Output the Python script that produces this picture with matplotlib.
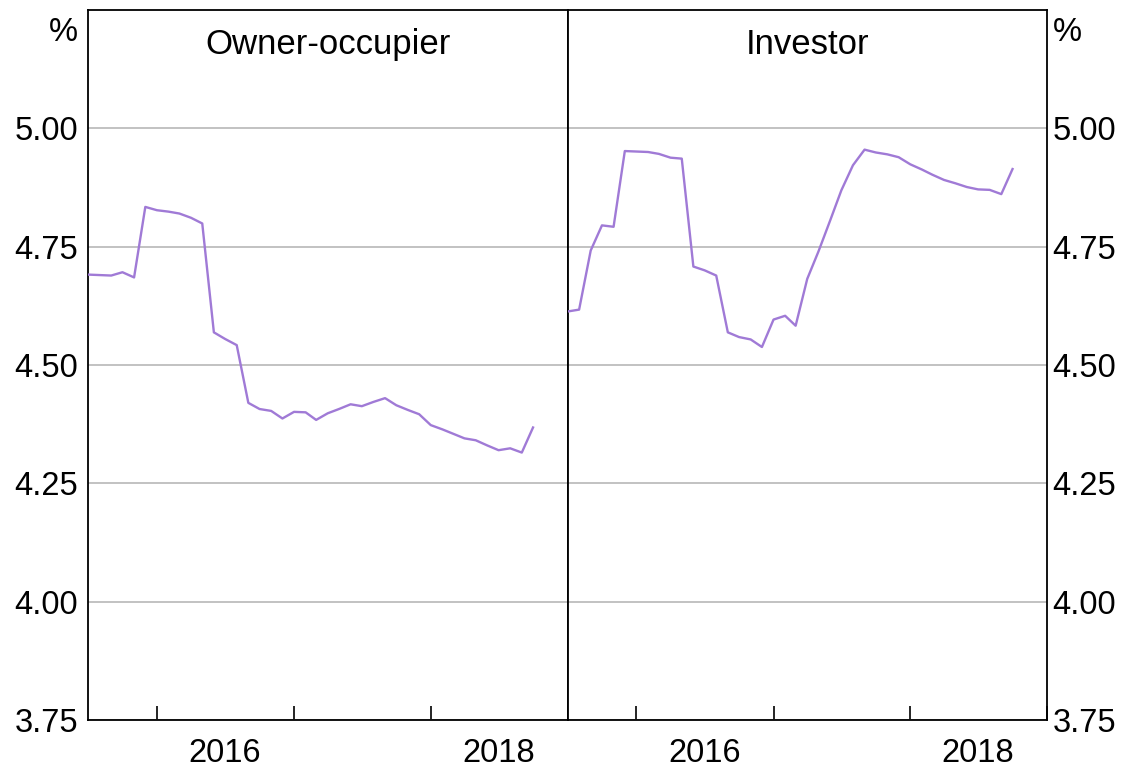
import matplotlib
matplotlib.use("Agg")
import matplotlib.pyplot as plt
import pandas as pd

plt.rcParams["font.family"] = ["Liberation Sans", "DejaVu Sans"]

# monthly, Jul 2015 to Oct 2018
months = pd.date_range("2015-07-01", periods=40, freq="MS")

owner_occupier = [
    4.691, 4.690, 4.689, 4.696, 4.685, 4.834, 4.827, 4.824, 4.820, 4.811,
    4.799, 4.569, 4.555, 4.542, 4.420, 4.407, 4.403, 4.387, 4.401, 4.400,
    4.384, 4.398, 4.407, 4.417, 4.413, 4.422, 4.430, 4.415, 4.405, 4.396,
    4.373, 4.364, 4.355, 4.345, 4.341, 4.330, 4.320, 4.324, 4.315, 4.368,
]
investor = [
    4.613, 4.617, 4.742, 4.795, 4.792, 4.952, 4.951, 4.950, 4.946, 4.938,
    4.936, 4.708, 4.700, 4.689, 4.569, 4.559, 4.554, 4.538, 4.596, 4.604,
    4.583, 4.682, 4.740, 4.805, 4.869, 4.922, 4.955, 4.949, 4.945, 4.939,
    4.924, 4.913, 4.902, 4.891, 4.884, 4.876, 4.871, 4.870, 4.861, 4.914,
]
panel_titles = ["Owner-occupier", "Investor"]
y_ticks = [3.75, 4.00, 4.25, 4.50, 4.75, 5.00]
year_ticks = pd.to_datetime(["2016-01-01", "2017-01-01", "2018-01-01", "2019-01-01"])
year_labels = ["2016", "2018"]
label_pos = pd.to_datetime(["2016-07-01", "2018-07-01"])

LINE = "#a07ad6"
GRID = "#bdbdbd"
FS = 23.5
TITLE_FS = 25

fig = plt.figure(figsize=(11.22, 7.71), dpi=100)
fig.subplots_adjust(left=88 / 1122, right=1047 / 1122, bottom=1 - 720 / 771,
                    top=1 - 10 / 771, wspace=0)
axes = fig.subplots(1, 2, sharey=True)

for ax, series, title in zip(axes, [owner_occupier, investor], panel_titles):
    ax.plot(months, series, color=LINE, lw=1.7, zorder=3)
    ax.set_xlim(pd.Timestamp("2015-07-01"), pd.Timestamp("2019-01-01"))
    ax.set_ylim(3.75, 5.25)
    ax.set_yticks(y_ticks)
    ax.yaxis.set_major_formatter(matplotlib.ticker.FormatStrFormatter("%.2f"))
    ax.grid(axis="y", color=GRID, lw=1.3)
    ax.set_axisbelow(True)

    ax.set_xticks(year_ticks)
    ax.set_xticklabels([""] * len(year_ticks))
    ax.set_xticks(label_pos, minor=True)
    ax.set_xticklabels(year_labels, minor=True)
    ax.tick_params(axis="x", which="major", direction="in", length=10, width=1.2)
    ax.tick_params(axis="x", which="minor", length=0, labelsize=FS, pad=13)
    ax.tick_params(axis="y", length=0, labelsize=FS)

    for sp in ax.spines.values():
        sp.set_linewidth(1.3)
        sp.set_color("black")

    ax.annotate(title, xy=(0.5, 1), xycoords="axes fraction", xytext=(0, -13),
                textcoords="offset points", ha="center", va="top", fontsize=TITLE_FS)

axes[0].tick_params(axis="y", pad=7)
axes[1].yaxis.tick_right()
axes[1].tick_params(axis="y", which="both", labelright=True, labelleft=False, pad=4)

axes[0].annotate("%", xy=(0, 1), xycoords="axes fraction", xytext=(-7, -5),
                 textcoords="offset points", ha="right", va="top", fontsize=FS)
axes[1].annotate("%", xy=(1, 1), xycoords="axes fraction", xytext=(4, -5),
                 textcoords="offset points", ha="left", va="top", fontsize=FS)

fig.savefig("out.png", dpi=100)
